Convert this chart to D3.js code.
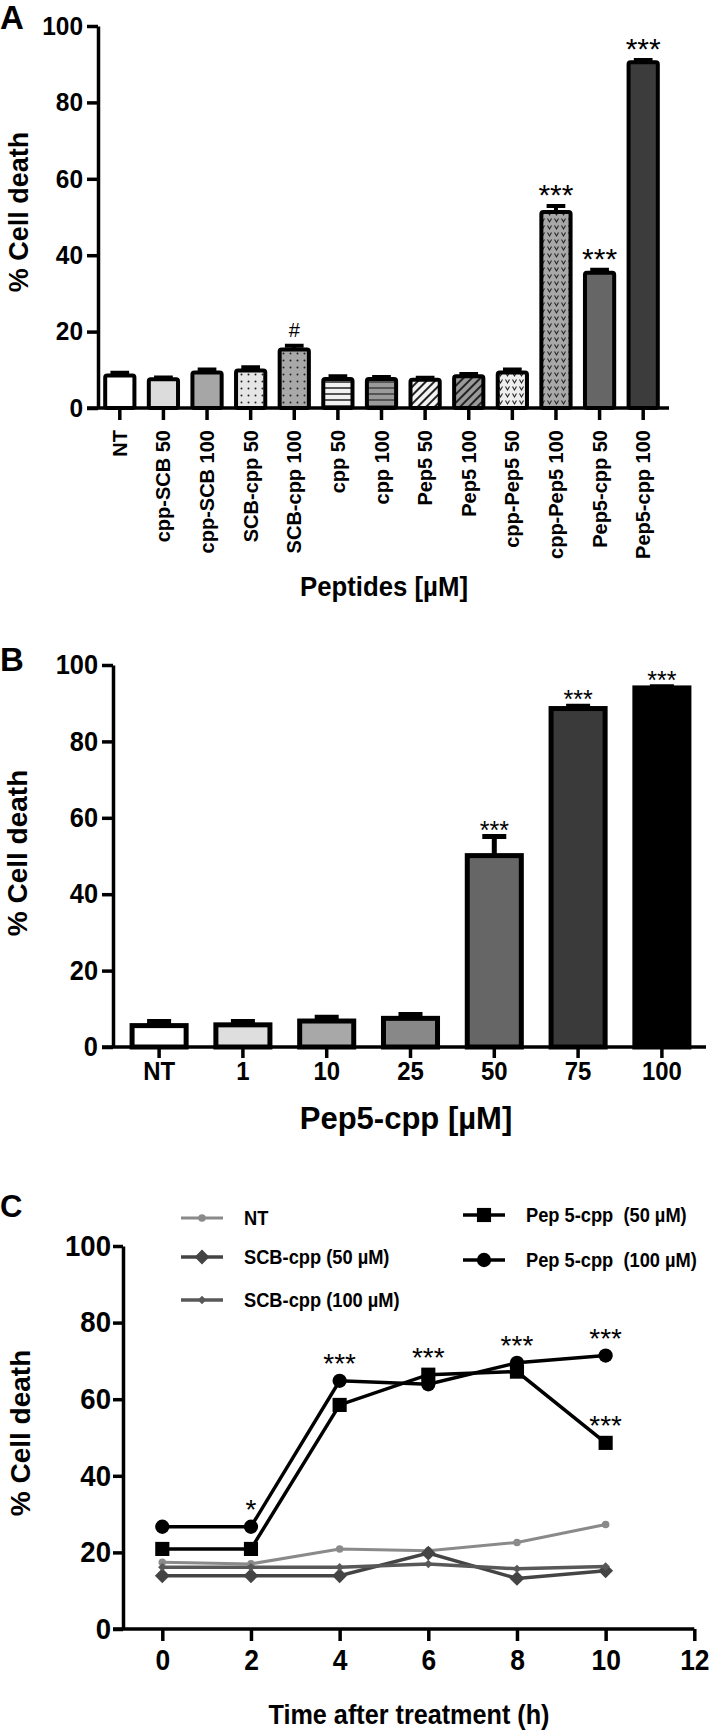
<!DOCTYPE html>
<html>
<head>
<meta charset="utf-8">
<script src="https://cdnjs.cloudflare.com/ajax/libs/d3/7.8.5/d3.min.js"></script>
<style>
    body { margin: 0; background: #fff; }
    svg text { font-family: "Liberation Sans", Arial, sans-serif; font-weight: bold; fill: #000; }
    .axis path, .axis line { stroke: #000; stroke-width: 3.5; }
</style>
</head>
<body>
<script>

    // Panel A: peptides
    var peptides = ["NT", "cpp-SCB 50", "cpp-SCB 100", "SCB-cpp 50", "SCB-cpp 100", "cpp 50", "cpp 100",
        "Pep5 50", "Pep5 100", "cpp-Pep5 50", "cpp-Pep5 100", "Pep5-cpp 50", "Pep5-cpp 100"];
    var peptideDeath = [8.5, 7.5, 9.3, 9.8, 15.3, 7.6, 7.6, 7.4, 8.3, 9.3, 51.3, 35.4, 90.5];
    var peptideErr = [0.7, 0.5, 0.8, 0.9, 1.0, 0.7, 0.5, 0.5, 0.6, 0.8, 1.6, 0.8, 0.6];
    var peptideMarks = ["", "", "", "", "#", "", "", "", "", "", "***", "***", "***"];

    // Panel B: Pep5-cpp dose
    var doses = ["NT", "1", "10", "25", "50", "75", "100"];
    var doseDeath = [5.6, 5.8, 6.8, 7.5, 50.1, 88.6, 94.0];
    var doseErr = [1.1, 0.9, 1.0, 1.0, 5.0, 0.6, 0.3];
    var doseMarks = ["", "", "", "", "***", "***", "***"];

    // Panel C: time course
    var hours = [0, 2, 4, 6, 8, 10];
    var ntDeath = [17.4, 17.0, 20.9, 20.4, 22.6, 27.3];
    var scb50Death = [13.9, 13.9, 13.9, 19.8, 13.2, 15.2];
    var scb100Death = [16.1, 16.1, 16.1, 17.0, 15.7, 16.3];
    var pep50Death = [20.9, 20.9, 58.5, 66.4, 67.2, 48.6];
    var pep100Death = [26.7, 26.7, 64.8, 63.9, 69.5, 71.4];
    var pep100Marks = ["", "*", "***", "***", "***", "***"];
    var pep50Marks = ["", "", "", "", "", "***"];
    var percentTicks = [0, 20, 40, 60, 80, 100];
    var hourTicks = [0, 2, 4, 6, 8, 10, 12];

    var svg = d3.select("body").append("svg")
        .attr("width", 720)
        .attr("height", 1730);

    var defs = svg.append("defs");

    // fill patterns for panel A
    function dotPattern(id, bg) {
        var p = defs.append("pattern").attr("id", id).attr("patternUnits", "userSpaceOnUse")
            .attr("width", 7).attr("height", 7);
        p.append("rect").attr("width", 7).attr("height", 7).attr("fill", bg);
        p.append("circle").attr("cx", 3.5).attr("cy", 3.5).attr("r", 1).attr("fill", "#222");
    }
    function stripePattern(id, bg, fg) {
        var p = defs.append("pattern").attr("id", id).attr("patternUnits", "userSpaceOnUse")
            .attr("width", 8).attr("height", 6);
        p.append("rect").attr("width", 8).attr("height", 6).attr("fill", bg);
        p.append("rect").attr("y", 3).attr("width", 8).attr("height", 2).attr("fill", fg);
    }
    function hatchPattern(id, bg) {
        var p = defs.append("pattern").attr("id", id).attr("patternUnits", "userSpaceOnUse")
            .attr("width", 6).attr("height", 6).attr("patternTransform", "rotate(45)");
        p.append("rect").attr("width", 6).attr("height", 6).attr("fill", bg);
        p.append("rect").attr("x", 0).attr("width", 2).attr("height", 6).attr("fill", "#222");
    }
    function vPattern(id, bg) {
        var p = defs.append("pattern").attr("id", id).attr("patternUnits", "userSpaceOnUse")
            .attr("width", 7).attr("height", 7);
        p.append("rect").attr("width", 7).attr("height", 7).attr("fill", bg);
        p.append("path").attr("d", "M1.5,1.5 L3.5,5 L5.5,1.5").attr("fill", "none")
            .attr("stroke", "#222").attr("stroke-width", 1.1);
    }
    dotPattern("dotLight", "#e6e6e6");
    dotPattern("dotDark", "#a8a8a8");
    stripePattern("stripeLight", "#f2f2f2", "#555");
    stripePattern("stripeDark", "#9a9a9a", "#555");
    hatchPattern("hatchLight", "#f4f4f4");
    hatchPattern("hatchDark", "#9a9a9a");
    vPattern("vLight", "#eeeeee");
    vPattern("vDark", "#a8a8a8");

    var peptideFills = ["#ffffff", "#dcdcdc", "#a6a6a6", "url(#dotLight)", "url(#dotDark)", "url(#stripeLight)",
        "url(#stripeDark)", "url(#hatchLight)", "url(#hatchDark)", "url(#vLight)", "url(#vDark)", "#666666", "#3c3c3c"];
    var doseFills = ["#ffffff", "#dedede", "#a8a8a8", "#888888", "#666666", "#3a3a3a", "#000000"];

    // squeeze text horizontally (no narrow font installed)
    function condense(sel, f) {
        sel.each(function () {
            var w = this.getComputedTextLength();
            if (w > 0) d3.select(this).attr("textLength", w * f).attr("lengthAdjust", "spacingAndGlyphs");
        });
    }

    function styleAxis(g, size, f) {
        g.attr("class", "axis");
        g.selectAll("text").style("font-size", size + "px");
        condense(g.selectAll("text"), f);
    }

    function starY(mark) {
        // asterisks sit high in the em box, '#' sits on the baseline
        return mark === "#" ? 9 : 1;
    }

    // ---------------- Panel A ----------------
    var yA = d3.scaleLinear().domain([0, 100]).range([408, 26]);
    var xA = d3.scaleBand().domain(peptides).range([98, 665]).paddingInner(0.33).paddingOuter(0.165);
    var gA = svg.append("g");

    gA.selectAll("rect.bar")
        .data(peptides)
        .enter()
        .append("rect")
        .attr("class", "bar")
        .attr("x", function (d) { return xA(d); })
        .attr("y", function (d, i) { return yA(peptideDeath[i]); })
        .attr("width", xA.bandwidth())
        .attr("height", function (d, i) { return yA(0) - yA(peptideDeath[i]); })
        .attr("rx", 2)
        .attr("fill", function (d, i) { return peptideFills[i]; })
        .attr("stroke", "#000")
        .attr("stroke-width", 4);

    gA.selectAll("path.err")
        .data(peptides)
        .enter()
        .append("path")
        .attr("class", "err")
        .attr("d", function (d, i) {
            var cx = xA(d) + xA.bandwidth() / 2;
            var top = yA(peptideDeath[i] + peptideErr[i]);
            var w = xA.bandwidth() * 0.32;
            return "M" + cx + "," + yA(peptideDeath[i]) + "V" + top + "M" + (cx - w) + "," + top + "H" + (cx + w);
        })
        .attr("stroke", "#000")
        .attr("stroke-width", 4)
        .attr("fill", "none");

    gA.selectAll("text.mark")
        .data(peptides)
        .enter()
        .append("text")
        .attr("class", "mark")
        .attr("x", function (d) { return xA(d) + xA.bandwidth() / 2; })
        .attr("y", function (d, i) { return yA(peptideDeath[i] + peptideErr[i]) - starY(peptideMarks[i]); })
        .attr("text-anchor", "middle")
        .style("font-size", function (d, i) { return peptideMarks[i] === "#" ? "20px" : "30px"; })
        .style("font-weight", "normal")
        .text(function (d, i) { return peptideMarks[i]; });

    var yAxisA = gA.append("g")
        .attr("transform", "translate(98,0)")
        .call(d3.axisLeft(yA).tickValues(percentTicks).tickSize(11).tickSizeOuter(0).tickPadding(4));
    styleAxis(yAxisA, 26, 0.94);

    var xAxisA = gA.append("g")
        .attr("transform", "translate(0,408)")
        .call(d3.axisBottom(xA).tickSize(12).tickSizeOuter(0));
    xAxisA.attr("class", "axis");
    xAxisA.select(".domain").attr("d", "M87,0H669");
    xAxisA.selectAll("text")
        .attr("transform", "rotate(-90)")
        .attr("x", -22)
        .attr("y", 0)
        .attr("dy", "0.35em")
        .style("text-anchor", "end")
        .style("font-size", "20px");

    var titleA = gA.append("text")
        .attr("x", 384)
        .attr("y", 596)
        .attr("text-anchor", "middle")
        .style("font-size", "28px")
        .text("Peptides [µM]");
    condense(titleA, 0.92);

    gA.append("text")
        .attr("transform", "translate(28,212) rotate(-90)")
        .attr("text-anchor", "middle")
        .style("font-size", "27px")
        .text("% Cell death");

    gA.append("text").attr("x", 0).attr("y", 29).style("font-size", "33px").text("A");

    // ---------------- Panel B ----------------
    var yB = d3.scaleLinear().domain([0, 100]).range([1047, 665]);
    var xB = d3.scaleBand().domain(doses).range([117, 704]).paddingInner(0.355).paddingOuter(0.18);
    var gB = svg.append("g");

    gB.selectAll("path.err")
        .data(doses)
        .enter()
        .append("path")
        .attr("class", "err")
        .attr("d", function (d, i) {
            var cx = xB(d) + xB.bandwidth() / 2;
            var top = yB(doseDeath[i] + doseErr[i]);
            return "M" + cx + "," + yB(doseDeath[i]) + "V" + top + "M" + (cx - 12) + "," + top + "H" + (cx + 12);
        })
        .attr("stroke", "#000")
        .attr("stroke-width", 5)
        .attr("fill", "none");

    gB.selectAll("rect.bar")
        .data(doses)
        .enter()
        .append("rect")
        .attr("class", "bar")
        .attr("x", function (d) { return xB(d); })
        .attr("y", function (d, i) { return yB(doseDeath[i]); })
        .attr("width", xB.bandwidth())
        .attr("height", function (d, i) { return yB(0) - yB(doseDeath[i]); })
        .attr("fill", function (d, i) { return doseFills[i]; })
        .attr("stroke", "#000")
        .attr("stroke-width", 5);

    gB.selectAll("text.mark")
        .data(doses)
        .enter()
        .append("text")
        .attr("class", "mark")
        .attr("x", function (d) { return xB(d) + xB.bandwidth() / 2; })
        .attr("y", function (d, i) { return yB(doseDeath[i] + doseErr[i]) + 2; })
        .attr("text-anchor", "middle")
        .style("font-size", "25px")
        .style("font-weight", "normal")
        .text(function (d, i) { return doseMarks[i]; });

    var yAxisB = gB.append("g")
        .attr("transform", "translate(113,0)")
        .call(d3.axisLeft(yB).tickValues(percentTicks).tickSize(11).tickSizeOuter(0).tickPadding(4));
    styleAxis(yAxisB, 27, 0.94);

    var xAxisB = gB.append("g")
        .attr("transform", "translate(0,1047)")
        .call(d3.axisBottom(xB).tickSize(11).tickSizeOuter(0).tickPadding(4));
    styleAxis(xAxisB, 26, 0.92);
    xAxisB.select(".domain").attr("d", "M102,0H706");

    gB.append("text")
        .attr("x", 406)
        .attr("y", 1129)
        .attr("text-anchor", "middle")
        .style("font-size", "31px")
        .text("Pep5-cpp [µM]");

    gB.append("text")
        .attr("transform", "translate(27,853) rotate(-90)")
        .attr("text-anchor", "middle")
        .style("font-size", "28px")
        .text("% Cell death");

    gB.append("text").attr("x", 0).attr("y", 671).style("font-size", "33px").text("B");

    // ---------------- Panel C ----------------
    var yC = d3.scaleLinear().domain([0, 100]).range([1629, 1246]);
    var xC = d3.scaleLinear().domain([0, 12]).range([162.3, 694.3]);
    var gC = svg.append("g");

    var seriesC = [
        { name: "NT", values: ntDeath, color: "#8a8a8a", width: 3, symbol: d3.symbolCircle, size: 45, rot: 0 },
        { name: "SCB-cpp (50 µM)", values: scb50Death, color: "#444444", width: 3.5, symbol: d3.symbolSquare, size: 110, rot: 45 },
        { name: "SCB-cpp (100 µM)", values: scb100Death, color: "#585858", width: 3.5, symbol: d3.symbolSquare, size: 36, rot: 45 },
        { name: "Pep 5-cpp  (50 µM)", values: pep50Death, color: "#000000", width: 3.5, symbol: d3.symbolSquare, size: 200, rot: 0, marks: pep50Marks },
        { name: "Pep 5-cpp  (100 µM)", values: pep100Death, color: "#000000", width: 3.5, symbol: d3.symbolCircle, size: 160, rot: 0, marks: pep100Marks }
    ];

    var line = d3.line()
        .x(function (d, i) { return xC(hours[i]); })
        .y(function (d) { return yC(d); });

    seriesC.forEach(function (s) {
        gC.append("path")
            .attr("d", line(s.values))
            .attr("fill", "none")
            .attr("stroke", s.color)
            .attr("stroke-width", s.width);
        gC.selectAll(null)
            .data(s.values)
            .enter()
            .append("path")
            .attr("d", d3.symbol().type(s.symbol).size(s.size))
            .attr("transform", function (d, i) {
                return "translate(" + xC(hours[i]) + "," + yC(d) + ") rotate(" + s.rot + ")";
            })
            .attr("fill", s.color);
    });

    // significance stars above the Pep5-cpp points
    [seriesC[3], seriesC[4]].forEach(function (s) {
        gC.selectAll(null)
            .data(s.values)
            .enter()
            .append("text")
            .attr("x", function (d, i) { return xC(hours[i]); })
            .attr("y", function (d, i) {
                var other = s === seriesC[4] ? pep50Death[i] : d;
                return yC(Math.max(d, other)) - 8;
            })
            .attr("text-anchor", "middle")
            .style("font-size", "28px")
            .style("font-weight", "normal")
            .text(function (d, i) { return s.marks[i]; });
    });

    var yAxisC = gC.append("g")
        .attr("transform", "translate(123,0)")
        .call(d3.axisLeft(yC).tickValues(percentTicks).tickSize(10).tickSizeOuter(0).tickPadding(2));
    styleAxis(yAxisC, 29, 0.95);

    var xAxisC = gC.append("g")
        .attr("transform", "translate(0,1629)")
        .call(d3.axisBottom(xC).tickValues(hourTicks).tickSize(12).tickSizeOuter(0).tickPadding(8));
    styleAxis(xAxisC, 30, 0.88);
    xAxisC.select(".domain").attr("d", "M113,0H" + xC(12));

    var titleC = gC.append("text")
        .attr("x", 409)
        .attr("y", 1724)
        .attr("text-anchor", "middle")
        .style("font-size", "28px")
        .text("Time after treatment (h)");
    condense(titleC, 0.9);

    gC.append("text")
        .attr("transform", "translate(30,1433) rotate(-90)")
        .attr("text-anchor", "middle")
        .style("font-size", "28px")
        .text("% Cell death");

    gC.append("text").attr("x", 0).attr("y", 1217).style("font-size", "31px").text("C");

    // legend
    var legendPos = [[181, 1218], [181, 1257], [181, 1300], [463, 1215], [463, 1260]];
    var legend = gC.selectAll("g.legend")
        .data(seriesC)
        .enter()
        .append("g")
        .attr("class", "legend")
        .attr("transform", function (d, i) { return "translate(" + legendPos[i][0] + "," + legendPos[i][1] + ")"; });
    legend.append("line")
        .attr("x1", 0).attr("x2", 42)
        .attr("stroke", function (d) { return d.color; })
        .attr("stroke-width", function (d) { return d.width; });
    legend.append("path")
        .attr("d", function (d) { return d3.symbol().type(d.symbol).size(d.size)(); })
        .attr("transform", function (d) { return "translate(21,0) rotate(" + d.rot + ")"; })
        .attr("fill", function (d) { return d.color; });
    // scaled group instead of textLength so the text box itself is narrow
    legend.append("g")
        .attr("transform", "translate(63,0) scale(0.87,1)")
        .append("text")
        .attr("dy", "0.35em")
        .style("font-size", "21px")
        .style("white-space", "pre")
        .text(function (d) { return d.name; });

</script>
</body>
</html>
